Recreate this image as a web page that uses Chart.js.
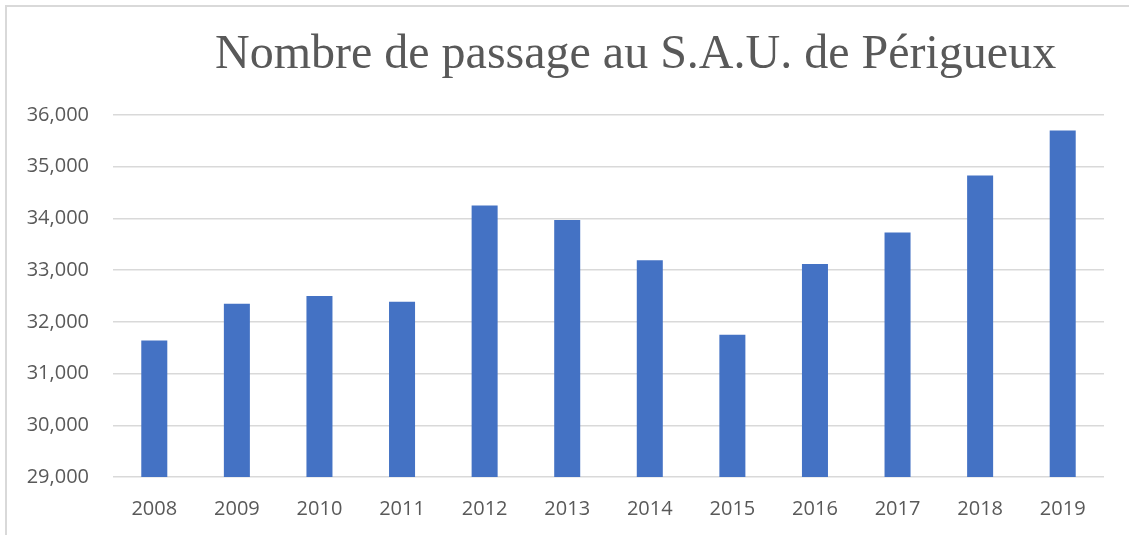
<!DOCTYPE html>
<html>
<head>
<meta charset="utf-8">
<script src="https://cdn.jsdelivr.net/npm/chart.js@4.4.0/dist/chart.umd.min.js"></script>
<style>
    html, body { margin: 0; padding: 0; background: #fff; overflow: hidden; }
    #cadre { position: absolute; left: 5px; top: 5px; width: 1200px; height: 600px; border: 2px solid #d9d9d9; box-sizing: border-box; }
    #titre { position: absolute; left: 215px; top: 28px; font-family: "Liberation Serif", "Times New Roman", serif; font-size: 48px; line-height: 48px; color: #595959; white-space: nowrap; }
    #zone { position: absolute; left: 0; top: 0; width: 1129px; height: 535px; }
</style>
</head>
<body>
<div id="cadre"></div>
<div id="zone"><canvas id="passages"></canvas></div>
<div id="titre">Nombre de passage au S.A.U. de Périgueux</div>
<script>
//DONNEES DU GRAPHIQUE
var annees = ["2008", "2009", "2010", "2011", "2012", "2013", "2014", "2015", "2016", "2017", "2018", "2019"];
var passages = [31640, 32350, 32500, 32390, 34250, 33970, 33190, 31750, 33120, 33730, 34830, 35700];
var echelleMin = 29000;
var echelleMax = 36000;
var echellePas = 1000;

//CREATION DU GRAPHIQUE EN BARRES
var ctx = document.getElementById("passages").getContext("2d");
new Chart(ctx, {
    type: 'bar',
    data: {
        labels: annees,
        datasets: [{
            data: passages,
            backgroundColor: "#4472C4",
            barPercentage: 0.315,
            categoryPercentage: 1
        }]
    },
    options: {
        responsive: true,
        maintainAspectRatio: false,
        animation: false,
        layout: {
            padding: { top: 115, right: 25, left: 0, bottom: 0 }
        },
        plugins: {
            legend: { display: false },
            tooltip: { enabled: false }
        },
        scales: {
            x: {
                grid: { display: false },
                border: { display: false },
                ticks: {
                    color: "#595959",
                    padding: 12,
                    font: { family: "Open Sans", size: 20 }
                },
                afterFit: function (scale) {
                    scale.height = 58;
                }
            },
            y: {
                min: echelleMin,
                max: echelleMax,
                grid: { color: "#d9d9d9", lineWidth: 1.5, drawTicks: false },
                border: { display: false },
                ticks: {
                    stepSize: echellePas,
                    color: "#595959",
                    padding: 24,
                    font: { family: "Open Sans", size: 20 },
                    callback: function (v) {
                        return v.toLocaleString("en-US");
                    }
                },
                afterFit: function (scale) {
                    scale.width = 113;
                }
            }
        }
    }
});
</script>
</body>
</html>
